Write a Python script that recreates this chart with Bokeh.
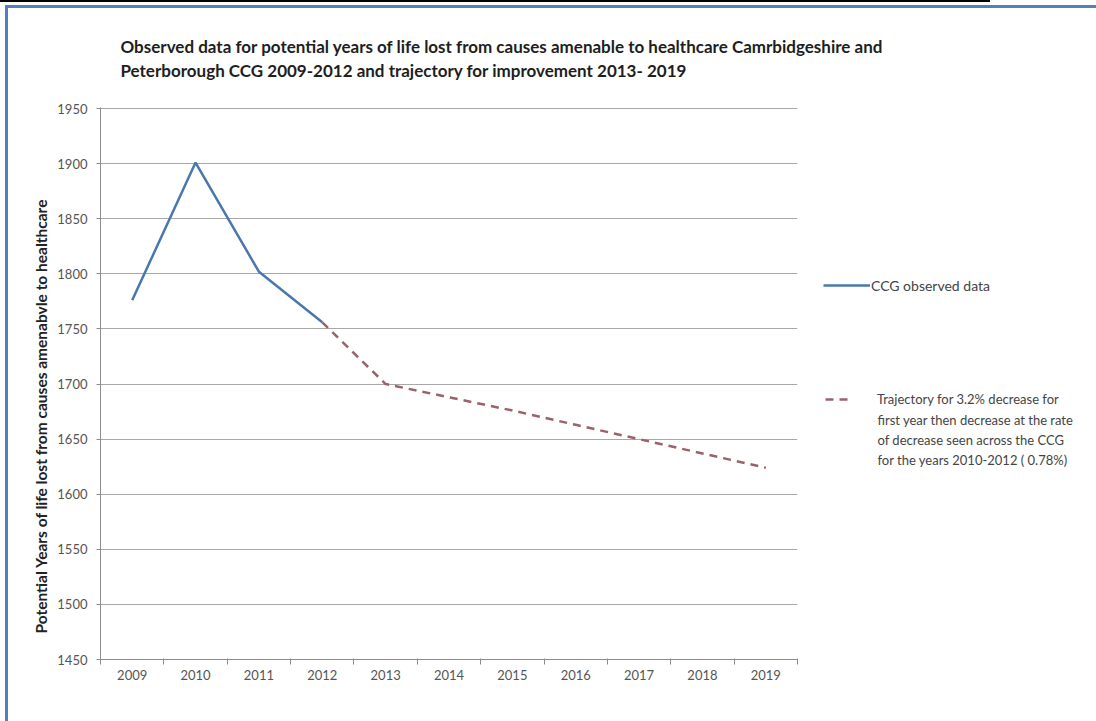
from bokeh.plotting import figure
from bokeh.layouts import column, row
from bokeh.models import Range1d, FixedTicker, Label, Legend, LegendItem, Title
from bokeh.embed import file_html
from bokeh.resources import INLINE

# Potential years of life lost from causes amenable to healthcare
observed_years = [2009, 2010, 2011, 2012]
observed_values = [1776, 1901, 1802, 1756]

trajectory_years = [2012, 2013, 2014, 2015, 2016, 2017, 2018, 2019]
trajectory_values = [1756, 1700, 1688, 1676, 1663, 1650, 1637, 1624]

years = list(range(2009, 2020))
year_labels = [str(y) for y in years]
y_ticks = list(range(1450, 2000, 50))

title_lines = [
    "Observed data for potential years of life lost from causes amenable to "
    "healthcare Camrbidgeshire and",
    "Peterborough CCG 2009-2012 and trajectory for improvement 2013- 2019",
]
y_title = "Potential Years of life lost  from causes  amenabvle to healthcare"
observed_label = "CCG observed data"
trajectory_label = [
    "Trajectory for 3.2% decrease for",
    "first year then decrease at the rate",
    "of decrease seen across the CCG",
    "for the years 2010-2012 ( 0.78%)",
]

FONT = "Lato"
BLUE = "#4a78ad"
RED = "#9a6269"
TEXT = "#444444"


def blank(width, height):
    f = figure(width=width, height=height, output_backend="svg",
               toolbar_location=None, x_axis_location=None,
               y_axis_location=None, min_border=0,
               x_range=Range1d(0, 1), y_range=Range1d(0, 1))
    f.grid.visible = False
    f.outline_line_color = None
    f.background_fill_color = None
    f.border_fill_color = None
    return f


# ---- title strip -------------------------------------------------------
p_top = blank(1096, 95)
for line, ypos in zip(title_lines, [49, 25]):
    p_top.add_layout(Label(x=120, y=ypos, x_units="screen", y_units="screen",
                           text=line, text_font=FONT, text_font_size="17px",
                           text_font_style="bold", text_color="#1e1e1e",
                           text_baseline="middle"))

# ---- main chart --------------------------------------------------------
p = figure(width=815, height=626, output_backend="svg", toolbar_location=None,
           x_range=Range1d(2008.5, 2019.5), y_range=Range1d(1450, 1951),
           min_border_left=100, min_border_right=18, min_border_top=12,
           min_border_bottom=62)
p.outline_line_color = None
p.background_fill_color = "white"
p.border_fill_color = None

yax = p.yaxis[0]
yax.ticker = FixedTicker(ticks=y_ticks)
yax.minor_tick_line_color = None
yax.major_tick_out = 4
yax.major_tick_in = 0
yax.axis_line_color = "#8c8c8c"
yax.major_tick_line_color = "#8c8c8c"
yax.major_label_text_font = FONT
yax.major_label_text_font_size = "13px"
yax.major_label_text_color = "#555555"
yax.major_label_standoff = 9
p.ygrid.grid_line_color = "#a8a8a8"
p.xgrid.visible = False

# vertical axis title, starting a little above the bottom of the axis
p.add_layout(Title(text=y_title, align="left", offset=26, standoff=10,
                   text_font=FONT, text_font_style="bold",
                   text_font_size="15.5px", text_color="#222222"), "left")

# year labels at category centres, tick marks between categories
xax = p.xaxis[0]
xax.ticker = FixedTicker(ticks=years, minor_ticks=[y - 0.5 for y in years + [2020]])
xax.major_label_overrides = dict(zip(years, year_labels))
xax.major_tick_line_color = None
xax.major_tick_out = 5
xax.minor_tick_out = 5
xax.minor_tick_in = 1
xax.minor_tick_line_color = "#8c8c8c"
xax.axis_line_color = "#8c8c8c"
xax.major_label_text_font = FONT
xax.major_label_text_font_size = "13px"
xax.major_label_text_color = "#555555"
xax.major_label_standoff = 5

p.line(observed_years, observed_values, line_color=BLUE, line_width=2.5)
p.line(trajectory_years, trajectory_values, line_color=RED, line_width=2.5,
       line_dash="8 6")

# ---- legend strip ------------------------------------------------------
# this strip's frame bottom lines up with the chart's x axis (canvas y 659)
p_leg = blank(281, 626)
k_obs = p_leg.line(observed_years, observed_values, line_color=BLUE,
                   line_width=2.5, visible=False)
k_traj = p_leg.line(trajectory_years, trajectory_values, line_color=RED,
                    line_width=2.5, line_dash="8 6", visible=False)

common = dict(padding=0, border_line_color=None, background_fill_alpha=0,
              label_text_font=FONT, label_text_color=TEXT,
              label_height=20, glyph_height=20)
p_leg.add_layout(Legend(items=[LegendItem(label=observed_label, renderers=[k_obs])],
                        location=(8, 364), glyph_width=47, label_standoff=1,
                        label_text_font_size="14px", **common), "center")
p_leg.add_layout(Legend(items=[LegendItem(label=trajectory_label[0], renderers=[k_traj])],
                        location=(10, 250), glyph_width=27, label_standoff=25,
                        label_text_font_size="13px", **common), "center")
for line, ypos in zip(trajectory_label[1:], [240, 220, 200]):
    p_leg.add_layout(Label(x=62, y=ypos, x_units="screen", y_units="screen",
                           text=line, text_font=FONT, text_font_size="13px",
                           text_color=TEXT, text_baseline="middle"))

page = column(
    p_top, row(p, p_leg),
    styles={
        "background":
            "linear-gradient(#000,#000) 0 0 / 990px 2px no-repeat,"
            "linear-gradient(#4f81bd,#4f81bd) 5px 5px / 1091px 3px no-repeat,"
            "linear-gradient(#4f81bd,#4f81bd) 5px 5px / 3px 716px no-repeat,"
            "#ffffff",
    },
)

open("out.html", "w").write(file_html(page, INLINE))
